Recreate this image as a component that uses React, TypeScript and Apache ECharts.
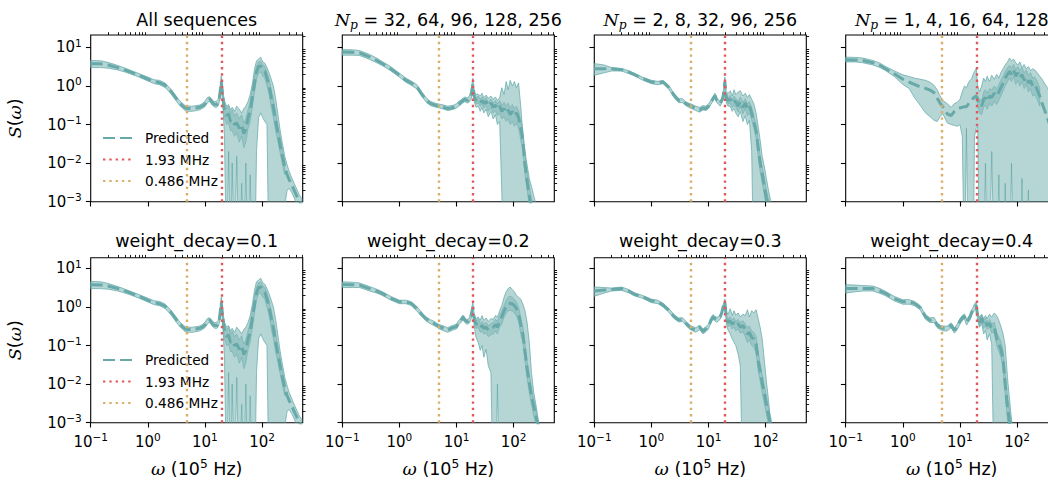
import React, { useEffect, useRef } from 'react';
import * as echarts from 'echarts';

// Frequency grid, in units of 10^5 Hz
const FREQ = [
  0.1, 0.15, 0.2, 0.3, 0.4, 0.5, 0.7, 1, 1.3, 1.6,
  2, 2.5, 3, 3.5, 4, 4.5, 5, 6, 7, 8,
  9, 10, 11, 12, 13, 14, 15, 16, 17, 18,
  19.3, 20.5, 22, 24, 26, 28, 30, 33, 36, 40,
  44, 48, 52, 57, 62, 68, 74, 80, 87, 95,
  103, 112, 122, 133, 145, 158, 172, 188, 205, 225,
  250, 275, 300, 340, 390, 450, 500,
];
// the darker inner (overlapping) band is given on FREQ[31..60] (20.5 ... 250)
const CORE_FREQ = [
  20.5, 22, 24, 26, 28, 30, 33, 36, 40, 44,
  48, 52, 57, 62, 68, 74, 80, 87, 95, 103,
  112, 122, 133, 145, 158, 172, 188, 205, 225, 250,
];

// All sequences (also weight_decay=0.1)
const ALL_MEAN = [
  3.8, 3.75, 3.5, 3.0, 2.6, 2.3, 1.9, 1.5, 1.3, 1.22,
  1.05, 0.75, 0.52, 0.38, 0.31, 0.27, 0.26, 0.26, 0.27, 0.28,
  0.3, 0.34, 0.42, 0.47, 0.4, 0.35, 0.33, 0.33, 0.36, 0.5,
  1.3, 0.55, 0.24, 0.17, 0.19, 0.12, 0.13, 0.1, 0.11, 0.08,
  0.1, 0.058, 0.075, 0.15, 0.22, 0.55, 1.2, 2.3, 3.2, 3.3,
  2.6, 2.4, 1.6, 1.0, 0.5, 0.28, 0.13, 0.065, 0.032, 0.016,
  0.008, 0.005, 0.0037, 0.0025, 0.0016, 0.001, 0.0008,
];
const ALL_HI = [
  4.6, 4.5, 4.1, 3.4, 2.9, 2.55, 2.1, 1.7, 1.45, 1.4,
  1.2, 0.85, 0.6, 0.44, 0.36, 0.31, 0.3, 0.3, 0.31, 0.32,
  0.35, 0.4, 0.5, 0.53, 0.47, 0.41, 0.39, 0.4, 0.45, 0.7,
  1.8, 0.8, 0.4, 0.3, 0.33, 0.24, 0.28, 0.22, 0.3, 0.25,
  0.2, 0.26, 0.3, 0.4, 0.6, 1.2, 2.8, 4.5, 5.0, 5.6,
  4.2, 3.9, 3.0, 2.2, 1.5, 1.0, 0.5, 0.2, 0.08, 0.035,
  0.015, 0.009, 0.006, 0.0038, 0.0024, 0.0015, 0.0012,
];
const ALL_LO = [
  3.0, 3.0, 2.9, 2.6, 2.3, 2.05, 1.7, 1.35, 1.15, 1.08,
  0.92, 0.65, 0.45, 0.33, 0.27, 0.23, 0.22, 0.22, 0.23, 0.24,
  0.26, 0.29, 0.36, 0.4, 0.34, 0.3, 0.28, 0.28, 0.3, 0.4,
  1.0, 0.35, 0.05, 1e-5, 0.02, 1e-5, 0.01, 1e-5, 0.015, 1e-5,
  0.003, 1e-5, 0.01, 1e-5, 0.005, 1e-5, 1e-5, 0.02, 0.15, 0.2,
  0.15, 0.12, 0.1, 1e-5, 1e-5, 1e-5, 1e-5, 1e-5, 1e-5, 1e-5,
  0.0008, 0.002, 0.0022, 0.0016, 0.001, 0.0007, 0.0005,
];
const ALL_CORE_HI = [
  0.7, 0.35, 0.26, 0.3, 0.2, 0.24, 0.17, 0.2, 0.14, 0.18,
  0.11, 0.14, 0.25, 0.4, 0.9, 1.9, 3.3, 4.3, 4.4, 3.6,
  3.2, 2.3, 1.5, 0.8, 0.45, 0.22, 0.1, 0.05, 0.024, 0.011,
];
const ALL_CORE_LO = [
  0.42, 0.15, 0.1, 0.11, 0.07, 0.07, 0.05, 0.06, 0.035, 0.05,
  0.025, 0.035, 0.08, 0.12, 0.3, 0.7, 1.5, 2.2, 2.3, 1.8,
  1.6, 1.0, 0.6, 0.28, 0.15, 0.07, 0.04, 0.02, 0.01, 0.005,
];

// N_p = 32, 64, 96, 128, 256
const NP32_MEAN = [
  7.6, 7.5, 7.2, 5.7, 4.6, 3.8, 2.8, 1.9, 1.4, 1.2,
  0.98, 0.6, 0.42, 0.35, 0.33, 0.31, 0.3, 0.28, 0.26, 0.27,
  0.28, 0.3, 0.34, 0.38, 0.42, 0.45, 0.43, 0.42, 0.48, 0.57,
  1.1, 0.52, 0.42, 0.45, 0.38, 0.42, 0.35, 0.4, 0.3, 0.36,
  0.28, 0.32, 0.25, 0.3, 0.22, 0.26, 0.2, 0.24, 0.18, 0.22,
  0.17, 0.2, 0.15, 0.08, 0.04, 0.009, 0.0035, 0.0014, 0.0007, 0.0004,
  0.0003, 0.0002, 0.0002, 0.0001, 0.0001, 0.0001, 0.0001,
];
const NP32_HI = [
  8.8, 8.7, 8.3, 6.6, 5.3, 4.3, 3.2, 2.15, 1.6, 1.35,
  1.1, 0.68, 0.48, 0.4, 0.37, 0.35, 0.34, 0.32, 0.3, 0.31,
  0.32, 0.35, 0.4, 0.44, 0.48, 0.52, 0.5, 0.5, 0.58, 0.75,
  1.6, 0.7, 0.6, 0.62, 0.55, 0.65, 0.5, 0.58, 0.48, 0.55,
  0.45, 0.52, 0.42, 0.5, 0.9, 0.6, 1.3, 0.8, 1.4, 1.0,
  1.3, 0.9, 1.2, 0.3, 0.06, 0.02, 0.009, 0.004, 0.0025, 0.0014,
  0.0008, 0.0005, 0.0003, 0.0002, 0.0001, 0.0001, 0.0001,
];
const NP32_LO = [
  6.3, 6.3, 6.2, 4.9, 4.0, 3.4, 2.5, 1.7, 1.25, 1.05,
  0.85, 0.52, 0.37, 0.31, 0.29, 0.28, 0.27, 0.25, 0.23, 0.24,
  0.25, 0.27, 0.3, 0.33, 0.37, 0.39, 0.37, 0.36, 0.4, 0.45,
  0.8, 0.38, 0.28, 0.3, 0.22, 0.28, 0.2, 0.25, 0.16, 0.22,
  0.14, 0.18, 0.1, 0.12, 0.0018, 1e-5, 1e-5, 1e-5, 1e-5, 1e-5,
  1e-5, 1e-5, 1e-5, 1e-5, 1e-5, 1e-5, 1e-5, 1e-5, 1e-5, 1e-5,
  1e-5, 1e-5, 1e-5, 1e-5, 1e-5, 1e-5, 1e-5,
];
const NP32_CORE_HI = [
  0.6, 0.5, 0.55, 0.46, 0.52, 0.43, 0.5, 0.38, 0.46, 0.36,
  0.42, 0.34, 0.42, 0.32, 0.38, 0.3, 0.36, 0.27, 0.33, 0.26,
  0.3, 0.23, 0.13, 0.07, 0.016, 0.006, 0.0025, 0.0012, 0.0007, 0.0005,
];
const NP32_CORE_LO = [
  0.45, 0.34, 0.36, 0.3, 0.33, 0.27, 0.31, 0.22, 0.27, 0.2,
  0.23, 0.17, 0.2, 0.14, 0.16, 0.12, 0.14, 0.1, 0.12, 0.09,
  0.11, 0.08, 0.04, 0.02, 0.005, 0.002, 0.0008, 0.0004, 0.0002, 0.0002,
];

// N_p = 2, 8, 32, 96, 256
const NP2_MEAN = [
  2.8, 2.8, 2.8, 2.65, 2.3, 2.0, 1.55, 1.27, 1.2, 1.27,
  0.94, 0.57, 0.42, 0.42, 0.35, 0.32, 0.3, 0.26, 0.24, 0.27,
  0.26, 0.3, 0.38, 0.47, 0.57, 0.42, 0.38, 0.35, 0.42, 0.52,
  1.3, 0.5, 0.42, 0.45, 0.36, 0.42, 0.38, 0.3, 0.4, 0.28,
  0.36, 0.25, 0.3, 0.2, 0.12, 0.07, 0.025, 0.01, 0.0054, 0.0025,
  0.0012, 0.0008, 0.0005, 0.0003, 0.0002, 0.0001, 0.0001, 0.0001, 0.0001, 0.0001,
  0.0001, 0.0001, 0.0001, 0.0001, 0.0001, 0.0001, 0.0001,
];
const NP2_HI = [
  3.8, 3.5, 3.0, 2.85, 2.5, 2.15, 1.7, 1.4, 1.32, 1.4,
  1.05, 0.64, 0.47, 0.47, 0.39, 0.36, 0.34, 0.3, 0.28, 0.31,
  0.3, 0.34, 0.43, 0.53, 0.65, 0.48, 0.44, 0.4, 0.48, 0.62,
  1.7, 0.7, 0.65, 0.75, 0.55, 0.8, 0.6, 0.7, 0.75, 0.55,
  0.65, 0.5, 0.6, 0.45, 0.35, 0.2, 0.09, 0.04, 0.015, 0.008,
  0.004, 0.002, 0.0011, 0.0007, 0.0004, 0.0002, 0.0002, 0.0002, 0.0002, 0.0002,
  0.0002, 0.0002, 0.0002, 0.0002, 0.0002, 0.0002, 0.0002,
];
const NP2_LO = [
  1.9, 2.2, 2.45, 2.45, 2.1, 1.85, 1.42, 1.15, 1.08, 1.15,
  0.84, 0.5, 0.37, 0.37, 0.31, 0.28, 0.26, 0.23, 0.21, 0.24,
  0.23, 0.26, 0.33, 0.41, 0.5, 0.37, 0.33, 0.3, 0.36, 0.44,
  1.0, 0.36, 0.3, 0.3, 0.22, 0.26, 0.2, 0.16, 0.22, 0.12,
  0.17, 0.1, 0.13, 0.02, 1e-5, 1e-5, 1e-5, 1e-5, 1e-5, 1e-5,
  1e-5, 1e-5, 1e-5, 1e-5, 1e-5, 1e-5, 1e-5, 1e-5, 1e-5, 1e-5,
  1e-5, 1e-5, 1e-5, 1e-5, 1e-5, 1e-5, 1e-5,
];
const NP2_CORE_HI = [
  0.58, 0.5, 0.56, 0.45, 0.55, 0.48, 0.4, 0.52, 0.38, 0.47,
  0.34, 0.4, 0.28, 0.17, 0.1, 0.04, 0.016, 0.008, 0.004, 0.002,
  0.0012, 0.0008, 0.0005, 0.0003, 0.0002, 0.0002, 0.0002, 0.0002, 0.0002, 0.0002,
];
const NP2_CORE_LO = [
  0.43, 0.34, 0.35, 0.28, 0.31, 0.28, 0.21, 0.29, 0.19, 0.26,
  0.17, 0.2, 0.13, 0.08, 0.045, 0.015, 0.006, 0.003, 0.0015, 0.0007,
  0.0005, 0.0003, 0.0002, 0.0001, 0.0001, 0.0001, 0.0001, 0.0001, 0.0001, 0.0001,
];

// N_p = 1, 4, 16, 64, 128
const NP1_MEAN = [
  4.8, 4.75, 4.6, 4.0, 3.4, 2.8, 2.1, 1.5, 1.25, 1.1,
  0.95, 0.87, 0.78, 0.68, 0.48, 0.36, 0.29, 0.19, 0.17, 0.22,
  0.25, 0.27, 0.28, 0.29, 0.29, 0.34, 0.4, 0.42, 0.48, 0.52,
  0.55, 0.42, 0.33, 0.3, 0.45, 0.5, 0.4, 0.55, 0.5, 0.65,
  0.55, 0.7, 0.9, 1.2, 1.6, 2.0, 2.4, 2.0, 2.6, 1.8,
  2.2, 1.6, 2.0, 1.4, 1.7, 1.2, 1.4, 1.0, 1.1, 0.8,
  0.55, 0.35, 0.25, 0.15, 0.08, 0.04, 0.02,
];
const NP1_HI = [
  5.6, 5.5, 5.3, 4.6, 3.9, 3.2, 2.5, 1.95, 1.75, 1.6,
  1.5, 1.4, 1.25, 1.05, 0.8, 0.55, 0.42, 0.35, 0.28, 0.35,
  0.38, 0.45, 0.7, 1.0, 0.9, 1.2, 1.4, 1.55, 2.0, 2.4,
  2.8, 1.0, 0.7, 1.0, 1.6, 1.3, 1.8, 1.3, 1.9, 1.5,
  2.0, 1.6, 2.2, 2.8, 3.5, 4.2, 5.3, 4.5, 5.0, 4.0,
  3.5, 4.2, 3.0, 3.6, 2.8, 3.2, 2.5, 2.8, 2.6, 2.2,
  1.8, 1.5, 1.2, 0.9, 0.6, 0.4, 0.3,
];
const NP1_LO = [
  4.2, 4.2, 4.0, 3.5, 3.0, 2.5, 1.8, 1.1, 0.85, 0.5,
  0.32, 0.2, 0.16, 0.13, 0.12, 0.16, 0.19, 0.11, 0.1, 0.095,
  0.09, 0.1, 0.05, 1e-5, 0.08, 1e-5, 1e-5, 1e-5, 1e-5, 0.05,
  0.08, 0.09, 1e-5, 1e-5, 1e-5, 0.01, 1e-5, 1e-5, 0.02, 1e-5,
  1e-5, 0.005, 1e-5, 1e-5, 0.003, 1e-5, 1e-5, 0.01, 1e-5, 1e-5,
  1e-5, 1e-5, 0.004, 1e-5, 1e-5, 0.002, 1e-5, 1e-5, 1e-5, 1e-5,
  1e-5, 1e-5, 1e-5, 1e-5, 1e-5, 1e-5, 1e-5,
];
const NP1_CORE_HI = [
  0.55, 0.45, 0.42, 0.7, 0.8, 0.65, 0.85, 0.8, 1.0, 0.85,
  1.1, 1.4, 1.8, 2.4, 3.0, 3.4, 3.0, 3.6, 2.7, 3.2,
  2.5, 3.0, 2.2, 2.6, 1.9, 2.2, 1.6, 1.7, 1.3, 0.9,
];
const NP1_CORE_LO = [
  0.3, 0.2, 0.18, 0.28, 0.32, 0.25, 0.35, 0.3, 0.4, 0.33,
  0.42, 0.55, 0.75, 1.0, 1.3, 1.6, 1.3, 1.7, 1.1, 1.4,
  1.0, 1.3, 0.85, 1.1, 0.7, 0.85, 0.55, 0.6, 0.45, 0.3,
];

// weight_decay = 0.2
const WD2_MEAN = [
  3.85, 3.8, 3.7, 3.0, 2.6, 2.25, 1.7, 1.36, 1.36, 1.24,
  0.92, 0.62, 0.48, 0.42, 0.38, 0.34, 0.31, 0.28, 0.25, 0.28,
  0.3, 0.31, 0.4, 0.46, 0.55, 0.46, 0.42, 0.42, 0.48, 0.6,
  1.0, 0.46, 0.36, 0.38, 0.3, 0.33, 0.28, 0.3, 0.25, 0.28,
  0.3, 0.35, 0.3, 0.45, 0.55, 0.8, 1.0, 1.2, 1.25, 1.2,
  1.1, 0.9, 0.68, 0.35, 0.2, 0.07, 0.025, 0.011, 0.005, 0.0026,
  0.0013, 0.0008, 0.0005, 0.0003, 0.0002, 0.0001, 0.0001,
];
const WD2_HI = [
  4.5, 4.4, 4.2, 3.4, 2.9, 2.5, 1.9, 1.5, 1.5, 1.38,
  1.05, 0.7, 0.54, 0.47, 0.43, 0.38, 0.35, 0.32, 0.29, 0.32,
  0.34, 0.36, 0.45, 0.52, 0.62, 0.52, 0.48, 0.48, 0.56, 0.72,
  1.4, 0.62, 0.5, 0.55, 0.45, 0.6, 0.45, 0.52, 0.42, 0.5,
  0.48, 0.6, 0.55, 0.8, 1.1, 1.8, 2.5, 3.0, 3.3, 2.8,
  2.5, 2.0, 1.8, 1.6, 1.2, 0.8, 0.4, 0.12, 0.02, 0.006,
  0.0025, 0.001, 0.0006, 0.0004, 0.0002, 0.0001, 0.0001,
];
const WD2_LO = [
  3.2, 3.2, 3.2, 2.6, 2.3, 2.0, 1.52, 1.22, 1.22, 1.1,
  0.8, 0.55, 0.42, 0.37, 0.33, 0.3, 0.27, 0.24, 0.22, 0.24,
  0.26, 0.27, 0.35, 0.4, 0.47, 0.4, 0.36, 0.36, 0.4, 0.5,
  0.7, 0.3, 0.16, 0.12, 0.075, 0.1, 0.05, 0.08, 0.03, 0.02,
  1e-5, 1e-5, 0.01, 1e-5, 1e-5, 1e-5, 1e-5, 1e-5, 1e-5, 1e-5,
  1e-5, 1e-5, 1e-5, 1e-5, 1e-5, 1e-5, 1e-5, 1e-5, 1e-5, 1e-5,
  1e-5, 1e-5, 1e-5, 1e-5, 1e-5, 1e-5, 1e-5,
];
const WD2_CORE_HI = [
  0.55, 0.45, 0.48, 0.38, 0.42, 0.36, 0.4, 0.33, 0.37, 0.4,
  0.48, 0.42, 0.62, 0.78, 1.1, 1.5, 1.8, 1.9, 1.8, 1.6,
  1.35, 1.0, 0.55, 0.3, 0.11, 0.04, 0.018, 0.008, 0.004, 0.002,
];
const WD2_CORE_LO = [
  0.38, 0.28, 0.29, 0.22, 0.24, 0.2, 0.21, 0.17, 0.19, 0.2,
  0.24, 0.2, 0.3, 0.36, 0.55, 0.68, 0.8, 0.82, 0.78, 0.7,
  0.58, 0.42, 0.2, 0.12, 0.04, 0.014, 0.006, 0.003, 0.0015, 0.0008,
];

// weight_decay = 0.3
const WD3_MEAN = [
  2.6, 2.75, 2.85, 3.0, 2.6, 2.15, 1.84, 1.45, 1.36, 1.12,
  0.83, 0.56, 0.46, 0.47, 0.38, 0.32, 0.28, 0.25, 0.3, 0.23,
  0.27, 0.31, 0.45, 0.56, 0.5, 0.47, 0.5, 0.56, 0.7, 1.0,
  1.36, 0.52, 0.4, 0.43, 0.36, 0.4, 0.33, 0.37, 0.3, 0.33,
  0.26, 0.2, 0.22, 0.16, 0.15, 0.11, 0.04, 0.022, 0.011, 0.0055,
  0.003, 0.0015, 0.0009, 0.0005, 0.0003, 0.0002, 0.0001, 0.0001, 0.0001, 0.0001,
  0.0001, 0.0001, 0.0001, 0.0001, 0.0001, 0.0001, 0.0001,
];
const WD3_HI = [
  3.3, 3.2, 3.1, 3.3, 2.85, 2.35, 2.0, 1.6, 1.5, 1.25,
  0.93, 0.63, 0.52, 0.53, 0.43, 0.36, 0.32, 0.29, 0.34, 0.27,
  0.31, 0.36, 0.52, 0.64, 0.57, 0.54, 0.57, 0.64, 0.8, 1.15,
  1.6, 0.75, 0.65, 0.9, 0.6, 0.8, 0.62, 0.7, 0.55, 0.65,
  0.6, 0.85, 0.55, 0.8, 0.7, 0.85, 0.5, 0.3, 0.15, 0.04,
  0.012, 0.004, 0.001, 0.0006, 0.0004, 0.0002, 0.0002, 0.0002, 0.0002, 0.0002,
  0.0002, 0.0002, 0.0002, 0.0002, 0.0002, 0.0002, 0.0002,
];
const WD3_LO = [
  1.9, 2.3, 2.6, 2.7, 2.35, 1.95, 1.68, 1.3, 1.22, 1.0,
  0.74, 0.5, 0.41, 0.42, 0.34, 0.28, 0.25, 0.22, 0.26, 0.2,
  0.23, 0.27, 0.39, 0.48, 0.43, 0.4, 0.44, 0.48, 0.6, 0.85,
  1.1, 0.36, 0.25, 0.2, 0.15, 0.12, 0.1, 0.06, 0.03, 1e-5,
  1e-5, 1e-5, 1e-5, 1e-5, 1e-5, 1e-5, 1e-5, 1e-5, 1e-5, 1e-5,
  1e-5, 1e-5, 1e-5, 1e-5, 1e-5, 1e-5, 1e-5, 1e-5, 1e-5, 1e-5,
  1e-5, 1e-5, 1e-5, 1e-5, 1e-5, 1e-5, 1e-5,
];
const WD3_CORE_HI = [
  0.62, 0.5, 0.55, 0.46, 0.52, 0.43, 0.48, 0.4, 0.44, 0.36,
  0.3, 0.32, 0.24, 0.22, 0.17, 0.07, 0.035, 0.018, 0.009, 0.005,
  0.0025, 0.0015, 0.0008, 0.0005, 0.0003, 0.0002, 0.0002, 0.0002, 0.0002, 0.0002,
];
const WD3_CORE_LO = [
  0.43, 0.32, 0.33, 0.27, 0.3, 0.24, 0.27, 0.21, 0.23, 0.17,
  0.12, 0.14, 0.1, 0.09, 0.065, 0.022, 0.012, 0.006, 0.003, 0.0017,
  0.0009, 0.0005, 0.0003, 0.0002, 0.0001, 0.0001, 0.0001, 0.0001, 0.0001, 0.0001,
];

// weight_decay = 0.4
const WD4_MEAN = [
  3.0, 3.0, 3.0, 3.0, 2.6, 2.25, 1.67, 1.36, 1.36, 1.24,
  0.98, 0.56, 0.45, 0.47, 0.34, 0.3, 0.28, 0.28, 0.34, 0.25,
  0.31, 0.43, 0.52, 0.58, 0.4, 0.47, 0.55, 0.72, 0.85, 1.0,
  1.1, 0.56, 0.4, 0.52, 0.36, 0.42, 0.33, 0.38, 0.28, 0.3,
  0.15, 0.11, 0.08, 0.045, 0.01, 0.0025, 0.001, 0.0005, 0.0003, 0.0002,
  0.0001, 0.0001, 0.0001, 0.0001, 0.0001, 0.0001, 0.0001, 0.0001, 0.0001, 0.0001,
  0.0001, 0.0001, 0.0001, 0.0001, 0.0001, 0.0001, 0.0001,
];
const WD4_HI = [
  3.8, 3.7, 3.6, 3.5, 3.0, 2.55, 1.9, 1.55, 1.55, 1.4,
  1.1, 0.64, 0.52, 0.54, 0.39, 0.34, 0.32, 0.32, 0.39, 0.29,
  0.36, 0.5, 0.6, 0.66, 0.47, 0.54, 0.64, 0.83, 0.98, 1.2,
  1.36, 0.7, 0.55, 0.65, 0.5, 0.6, 0.5, 0.65, 0.55, 0.7,
  0.6, 0.45, 0.32, 0.2, 0.1, 0.015, 0.004, 0.0012, 0.0006, 0.0003,
  0.0002, 0.0002, 0.0002, 0.0002, 0.0002, 0.0002, 0.0002, 0.0002, 0.0002, 0.0002,
  0.0002, 0.0002, 0.0002, 0.0002, 0.0002, 0.0002, 0.0002,
];
const WD4_LO = [
  2.3, 2.5, 2.6, 2.6, 2.25, 1.95, 1.45, 1.18, 1.18, 1.08,
  0.86, 0.48, 0.39, 0.4, 0.29, 0.26, 0.24, 0.24, 0.29, 0.21,
  0.26, 0.36, 0.44, 0.5, 0.34, 0.4, 0.46, 0.6, 0.72, 0.82,
  0.9, 0.45, 0.3, 0.38, 0.2, 0.25, 0.14, 0.2, 0.11, 1e-5,
  1e-5, 1e-5, 1e-5, 1e-5, 1e-5, 1e-5, 1e-5, 1e-5, 1e-5, 1e-5,
  1e-5, 1e-5, 1e-5, 1e-5, 1e-5, 1e-5, 1e-5, 1e-5, 1e-5, 1e-5,
  1e-5, 1e-5, 1e-5, 1e-5, 1e-5, 1e-5, 1e-5,
];
const WD4_CORE_HI = [
  0.66, 0.5, 0.62, 0.45, 0.52, 0.42, 0.48, 0.37, 0.4, 0.22,
  0.17, 0.13, 0.075, 0.018, 0.005, 0.002, 0.001, 0.0005, 0.0003, 0.0002,
  0.0002, 0.0002, 0.0002, 0.0002, 0.0002, 0.0002, 0.0002, 0.0002, 0.0002, 0.0002,
];
const WD4_CORE_LO = [
  0.47, 0.32, 0.43, 0.28, 0.33, 0.26, 0.3, 0.21, 0.22, 0.1,
  0.07, 0.05, 0.026, 0.005, 0.0012, 0.0005, 0.0002, 0.0001, 0.0001, 0.0001,
  0.0001, 0.0001, 0.0001, 0.0001, 0.0001, 0.0001, 0.0001, 0.0001, 0.0001, 0.0001,
];

const TITLES = [
  '{t|All sequences}',
  '{i|N}{sub|p}{t| = 32, 64, 96, 128, 256}',
  '{i|N}{sub|p}{t| = 2, 8, 32, 96, 256}',
  '{i|N}{sub|p}{t| = 1, 4, 16, 64, 128}',
  '{t|weight_decay=0.1}',
  '{t|weight_decay=0.2}',
  '{t|weight_decay=0.3}',
  '{t|weight_decay=0.4}',
];
const MEANS = [ALL_MEAN, NP32_MEAN, NP2_MEAN, NP1_MEAN, ALL_MEAN, WD2_MEAN, WD3_MEAN, WD4_MEAN];
const HIS = [ALL_HI, NP32_HI, NP2_HI, NP1_HI, ALL_HI, WD2_HI, WD3_HI, WD4_HI];
const LOS = [ALL_LO, NP32_LO, NP2_LO, NP1_LO, ALL_LO, WD2_LO, WD3_LO, WD4_LO];
const CORE_HIS = [ALL_CORE_HI, NP32_CORE_HI, NP2_CORE_HI, NP1_CORE_HI, ALL_CORE_HI, WD2_CORE_HI, WD3_CORE_HI, WD4_CORE_HI];
const CORE_LOS = [ALL_CORE_LO, NP32_CORE_LO, NP2_CORE_LO, NP1_CORE_LO, ALL_CORE_LO, WD2_CORE_LO, WD3_CORE_LO, WD4_CORE_LO];

const RED_FREQ = 19.3; // 1.93 MHz
const TAN_FREQ = 4.86; // 0.486 MHz
const LEGEND_NAMES = ['Predicted', '1.93 MHz', '0.486 MHz'];

const X_MIN = 0.1;
const X_MAX = 515;
const Y_MIN = 0.001;
const Y_MAX = [21, 19];
const X_MAJOR = [0.1, 1, 10, 100];
const Y_MAJOR = [0.001, 0.01, 0.1, 1, 10];

// layout (px)
const LEFTS = [90.7, 342.3, 594.3, 845.7];
const PW = 212;
const TOPS = [35, 257.7];
const PH = [166.7, 165];

const TEAL = '#67a9a9';
const FILL = 'rgba(103,169,169,0.48)';
const EDGE = 'rgba(103,169,169,0.75)';
const CORE_FILL = 'rgba(103,169,169,0.38)';
const RED = '#de5a5a';
const TAN = '#d9ad6a';
const FONT = 'DejaVu Sans';
const SERIF = 'DejaVu Serif';

const lg = Math.log10;

function minorTicks(lo: number, hi: number) {
  const out: number[] = [];
  for (let d = Math.floor(lg(lo)); d <= Math.ceil(lg(hi)); d++) {
    for (let k = 2; k <= 9; k++) {
      const v = k * Math.pow(10, d);
      if (v > lo && v < hi) out.push(lg(v));
    }
  }
  return out;
}

const tickRich = {
  b: { fontSize: 15, fontFamily: FONT, color: '#000', lineHeight: 20 },
  s: { fontSize: 10.5, fontFamily: FONT, color: '#000', lineHeight: 11, verticalAlign: 'top' },
};
const powLabel = (v: number) => {
  const e = Math.round(v);
  return `{b|10}{s|${e < 0 ? '\u2212' : ''}${Math.abs(e)}}`;
};
const mathRich = (fs: number) => ({
  i: { fontFamily: SERIF, fontStyle: 'italic', fontSize: fs, color: '#000', lineHeight: 22 },
  t: { fontFamily: FONT, fontSize: fs, color: '#000', lineHeight: 22 },
  sub: { fontFamily: SERIF, fontStyle: 'italic', fontSize: fs * 0.7, color: '#000', lineHeight: 12, verticalAlign: 'bottom' },
  s: { fontFamily: FONT, fontSize: fs * 0.7, color: '#000', lineHeight: 12, verticalAlign: 'top' },
});

function bandSeries(xi: number, yi: number, xs: number[], hi: number[], lo: number[], fill: string, stroke: string, z: number) {
  return {
    type: 'custom', xAxisIndex: xi, yAxisIndex: yi, silent: true, clip: true, z,
    data: [[lg(xs[0]), lg(hi[0])]],
    renderItem: (_p: any, api: any) => {
      const pts: number[][] = [];
      xs.forEach((f, i) => pts.push(api.coord([lg(f), lg(hi[i])])));
      for (let i = xs.length - 1; i >= 0; i--) pts.push(api.coord([lg(xs[i]), lg(lo[i])]));
      return {
        type: 'polygon',
        shape: { points: pts },
        style: { fill, stroke, lineWidth: 1 },
      };
    },
  };
}

function buildOption() {
  const grid: any[] = [];
  const xAxis: any[] = [];
  const yAxis: any[] = [];
  const series: any[] = [];
  const title: any[] = [];

  TITLES.forEach((t, g) => {
    const r = Math.floor(g / 4);
    const c = g % 4;
    const ymax = Y_MAX[r];
    grid.push({
      left: LEFTS[c], top: TOPS[r], width: PW, height: PH[r],
      show: true, borderColor: '#000', borderWidth: 1.1, backgroundColor: 'transparent',
      containLabel: false, outerBoundsMode: 'none',
    });
    title.push({
      text: t, left: LEFTS[c] + PW / 2, top: r === 0 ? 8.5 : 229.5, textAlign: 'center', padding: 0,
      textStyle: { fontSize: 17.5, fontWeight: 'normal', color: '#000', fontFamily: FONT, rich: mathRich(17.5) },
    });
    const xBase = {
      type: 'value', gridIndex: g, min: lg(X_MIN), max: lg(X_MAX),
      splitLine: { show: false }, axisLine: { show: false, onZero: false },
    };
    xAxis.push({
      ...xBase,
      axisTick: { show: true, customValues: X_MAJOR.map(lg), length: 4.8, lineStyle: { color: '#000', width: 1.1 } },
      axisLabel: { show: r === 1, customValues: X_MAJOR.map(lg), formatter: powLabel, rich: tickRich, margin: 9, color: '#000' },
      name: r === 1 ? '{i|ω}{t| (10}{s|5}{t| Hz)}' : '',
      nameLocation: 'middle', nameGap: 35,
      nameTextStyle: { fontSize: 17.5, color: '#000', fontFamily: FONT, rich: mathRich(17.5) },
    });
    xAxis.push({
      ...xBase,
      axisTick: { show: true, customValues: minorTicks(X_MIN, X_MAX), length: 2.8, lineStyle: { color: '#000', width: 0.9 } },
      axisLabel: { show: false },
    });
    const yBase = {
      type: 'value', gridIndex: g, min: lg(Y_MIN), max: lg(ymax),
      splitLine: { show: false }, axisLine: { show: false, onZero: false },
    };
    yAxis.push({
      ...yBase,
      axisTick: { show: true, customValues: Y_MAJOR.map(lg), length: 4.8, lineStyle: { color: '#000', width: 1.1 } },
      axisLabel: { show: c === 0, customValues: Y_MAJOR.map(lg), formatter: powLabel, rich: tickRich, margin: 9, color: '#000' },
      name: c === 0 ? '{i|S}{t|(}{i|ω}{t|)}' : '',
      nameLocation: 'middle', nameGap: 64.5, nameRotate: 90,
      nameTextStyle: { fontSize: 17.5, color: '#000', fontFamily: FONT, rich: mathRich(17.5) },
    });
    yAxis.push({
      ...yBase,
      axisTick: { show: true, customValues: minorTicks(Y_MIN, ymax), length: 2.8, lineStyle: { color: '#000', width: 0.9 } },
      axisLabel: { show: false },
    });

    const xi = 2 * g;
    const yi = 2 * g;
    const mean = MEANS[g];
    series.push(bandSeries(xi, yi, FREQ, HIS[g], LOS[g], FILL, EDGE, 2));
    series.push(bandSeries(xi, yi, CORE_FREQ, CORE_HIS[g], CORE_LOS[g], CORE_FILL, 'rgba(103,169,169,0.5)', 2));
    series.push({
      name: 'Predicted', type: 'line', xAxisIndex: xi, yAxisIndex: yi, silent: true,
      symbol: 'none', lineStyle: { color: TEAL, width: 3, type: [12, 5] }, itemStyle: { color: TEAL }, z: 3,
      data: FREQ.map((f, i) => [lg(f), lg(mean[i])]),
    });
    const vline = (name: string, freq: number, color: string) => ({
      name, type: 'line', xAxisIndex: xi, yAxisIndex: yi, silent: true, data: [], symbol: 'none',
      lineStyle: { color, width: 2.4, type: [2.4, 3.9] }, itemStyle: { color }, z: 5,
      markLine: {
        silent: true, symbol: ['none', 'none'], label: { show: false }, animation: false,
        lineStyle: { color, width: 2.4, type: [2.4, 3.9] },
        data: [{ xAxis: lg(freq) }],
      },
    });
    series.push(vline('1.93 MHz', RED_FREQ, RED));
    series.push(vline('0.486 MHz', TAN_FREQ, TAN));
  });

  const legendBase = {
    orient: 'vertical', left: 102, data: LEGEND_NAMES, itemWidth: 30, itemHeight: 14, itemGap: 7.5,
    padding: 0, selectedMode: false, itemStyle: { opacity: 0 },
    textStyle: { fontSize: 13.7, color: '#000', fontFamily: FONT, padding: [0, 0, 0, 7] },
  };

  return {
    animation: false,
    backgroundColor: '#fff',
    textStyle: { fontFamily: FONT },
    title,
    grid,
    xAxis,
    yAxis,
    legend: [
      { ...legendBase, top: 131 },
      { ...legendBase, top: 353 },
    ],
    series,
  };
}

export default function App() {
  const ref = useRef<HTMLDivElement>(null);
  useEffect(() => {
    const chart = echarts.init(ref.current!, null, { renderer: 'svg' });
    chart.setOption(buildOption() as any);
    return () => chart.dispose();
  }, []);
  return (
    <div
      ref={ref}
      style={{ position: 'fixed', left: 0, top: 0, width: 1048, height: 482, background: '#fff' }}
    />
  );
}
